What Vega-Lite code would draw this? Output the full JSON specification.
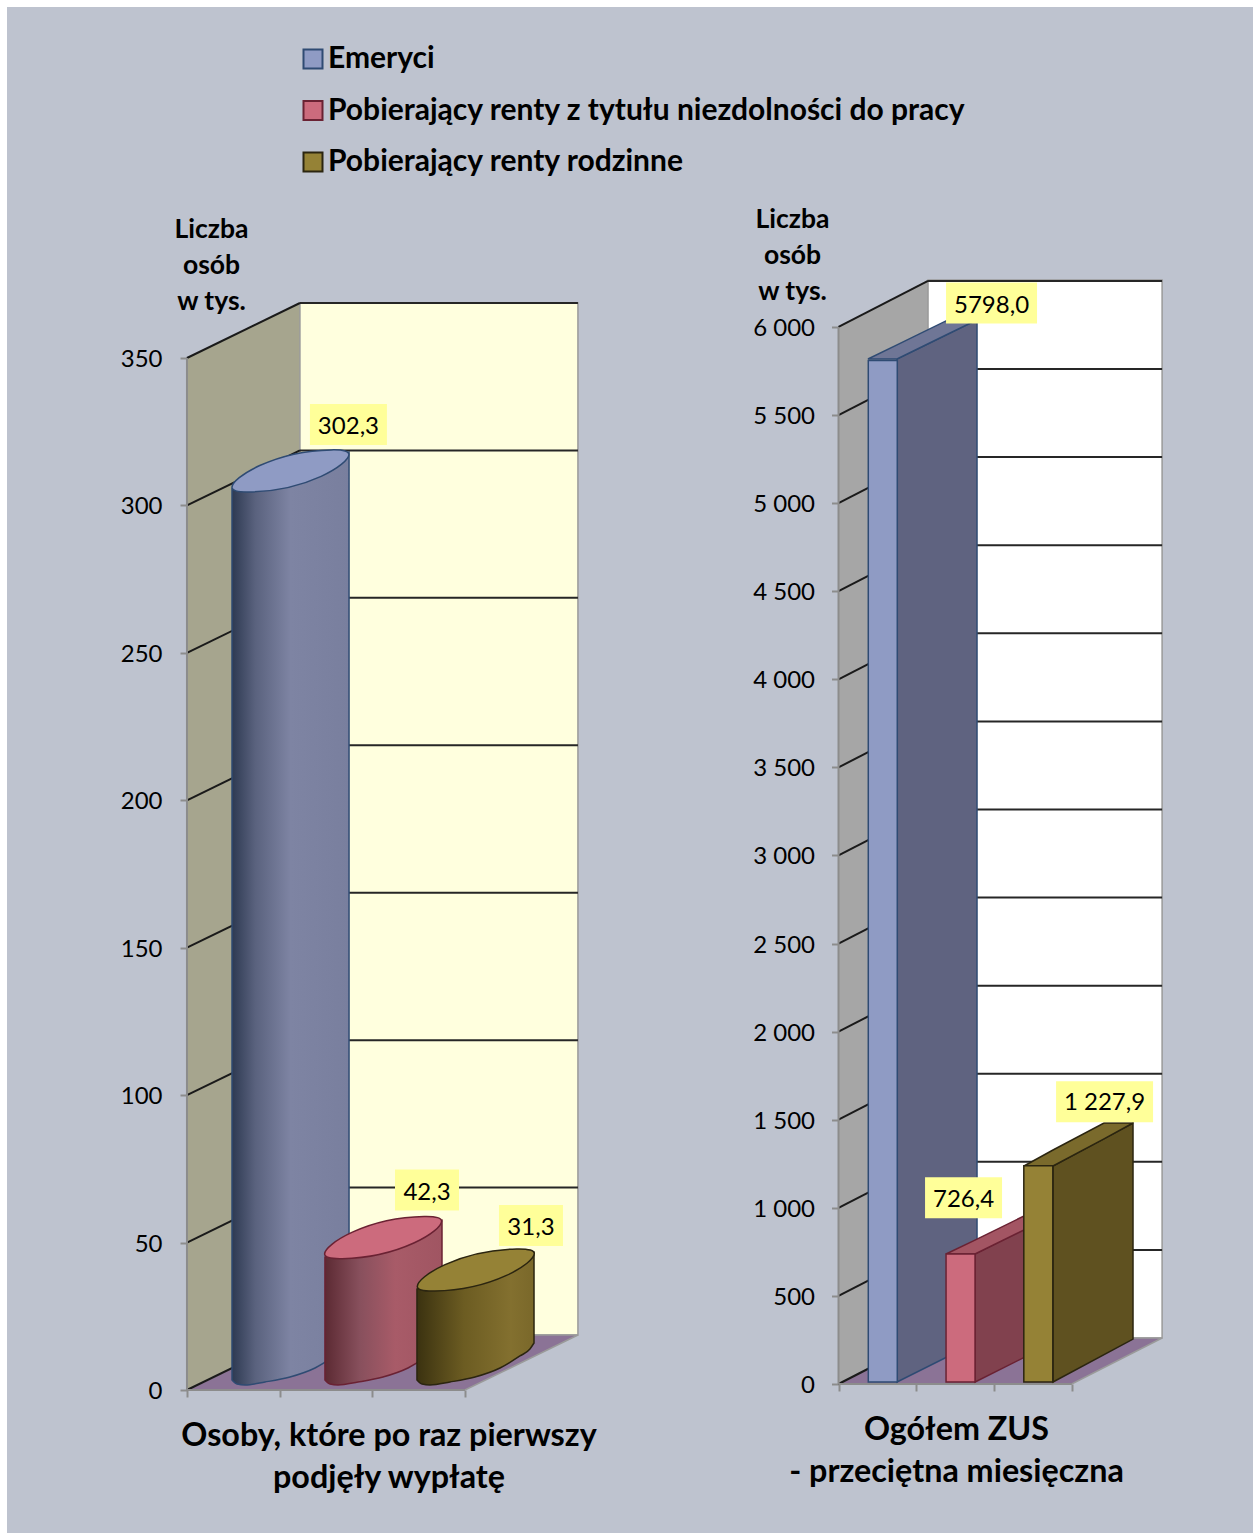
{"$schema":"https://vega.github.io/schema/vega-lite/v6.json","background":"white","padding":{"left":7,"top":7,"right":0,"bottom":0},"spacing":0,
"config":{"font":"Lato","legend":{"symbolType":"square"},"axis":{"labelFont":"Lato","titleFont":"Lato"}},
"datasets":{
"first":[{"series":"Emeryci","slot":1,"value":302.3,"label":"302,3"},{"series":"Pobierający renty z tytułu niezdolności do pracy","slot":2,"value":42.3,"label":"42,3"},{"series":"Pobierający renty rodzinne","slot":3,"value":31.3,"label":"31,3"}],
"total":[{"series":"Emeryci","slot":1,"value":5798.0,"label":"5798,0"},{"series":"Pobierający renty z tytułu niezdolności do pracy","slot":2,"value":726.4,"label":"726,4"},{"series":"Pobierający renty rodzinne","slot":3,"value":1227.9,"label":"1 227,9"}],
"ticks1":[{"tick":0},{"tick":50},{"tick":100},{"tick":150},{"tick":200},{"tick":250},{"tick":300},{"tick":350}],
"ticks2":[{"tick":0},{"tick":500},{"tick":1000},{"tick":1500},{"tick":2000},{"tick":2500},{"tick":3000},{"tick":3500},{"tick":4000},{"tick":4500},{"tick":5000},{"tick":5500},{"tick":6000}]
},
"hconcat":[
{"width":627,"height":1526,"view":{"fill":"#BEC3CF","stroke":null},"resolve":{"axis":{"x":"independent","y":"independent"}},
"layer":[
{"data":{"name":"ticks1"},"mark":{"type":"rule","opacity":0},"encoding":{
"x":{"datum":0,"type":"quantitative","scale":{"domain":[-1.942,4.824],"nice":false,"zero":false},"axis":{"values":[0,1,2,3],"labels":false,"domain":false,"grid":false,"tickColor":"#8C8C8C","tickWidth":2,"tickSize":7,"offset":-143,"title":["Osoby, które po raz pierwszy","podjęły wypłatę"],"titleFontSize":32.3,"titleFontWeight":"bold","titleColor":"black","titleX":381.5,"titleY":45,"titleAlign":"center","titleBaseline":"middle","titleLineHeight":42}},
"x2":{"datum":3},
"y":{"field":"tick","type":"quantitative","scale":{"domain":[-48.5,469.04],"nice":false,"zero":false},"axis":{"values":[0,50,100,150,200,250,300,350],"domain":false,"grid":false,"tickColor":"#8C8C8C","tickWidth":2,"tickSize":7,"offset":-180,"labelFontSize":24,"labelColor":"black","labelPadding":18,"labelOffset":1.5,"title":["Liczba","osób","w tys."],"titleFontSize":26.5,"titleFontWeight":"bold","titleColor":"black","titleAngle":0,"titleX":24,"titleY":222,"titleAlign":"center","titleBaseline":"middle","titleLineHeight":36}}}},
{"data":{"values":[{"d":0,"lo":0,"hi":350},{"d":1.219,"lo":18.65,"hi":368.65}]},"mark":{"type":"area","orient":"vertical","fill":"#A6A58E"},"encoding":{"x":{"field":"d","type":"quantitative","axis":null},"y":{"field":"lo","type":"quantitative","axis":null},"y2":{"field":"hi"}}},
{"data":{"values":[{"d":1.219,"lo":18.65,"hi":368.65},{"d":4.219,"lo":18.65,"hi":368.65}]},"mark":{"type":"area","orient":"vertical","fill":"#FFFFDE","stroke":"#9A9A9A","strokeWidth":1.5},"encoding":{"x":{"field":"d","type":"quantitative","axis":null},"y":{"field":"lo","type":"quantitative","axis":null},"y2":{"field":"hi"}}},
{"data":{"values":[{"d":0,"lo":0,"hi":0},{"d":1.219,"lo":0,"hi":18.65},{"d":3,"lo":0,"hi":18.65},{"d":4.219,"lo":18.65,"hi":18.65}]},"mark":{"type":"area","orient":"vertical","fill":"#8B7396","stroke":"#9A9A9A","strokeWidth":1.5},"encoding":{"x":{"field":"d","type":"quantitative","axis":null},"y":{"field":"lo","type":"quantitative","axis":null},"y2":{"field":"hi"}}},
{"data":{"name":"ticks1"},"transform":[{"filter":"datum.tick>0"}],"mark":{"type":"rule","color":"#262626","strokeWidth":2,"yOffset":-55},"encoding":{"x":{"datum":1.219,"type":"quantitative","axis":null},"x2":{"datum":4.219},"y":{"field":"tick","type":"quantitative","axis":null}}},
{"data":{"name":"ticks1"},"mark":{"type":"rule","color":"#1A1A1A","strokeWidth":2,"y2Offset":-55},"encoding":{"x":{"datum":0,"type":"quantitative","axis":null},"x2":{"datum":1.219},"y":{"field":"tick","type":"quantitative","axis":null},"y2":{"field":"tick"}}},
{"data":{"values":[{"a":0}]},"mark":{"type":"rule","color":"#8C8C8C","strokeWidth":2},"encoding":{"x":{"datum":0,"type":"quantitative","axis":null},"y":{"datum":0,"type":"quantitative","axis":null},"y2":{"datum":350}}},
{"data":{"values":[{"a":0}]},"mark":{"type":"rule","color":"#8C8C8C","strokeWidth":2},"encoding":{"x":{"datum":0,"type":"quantitative","axis":null},"x2":{"datum":3},"y":{"datum":0,"type":"quantitative","axis":null}}},
{"data":{"values":[{"u":0.486,"lo":3.39,"hi":305.6},{"u":0.54,"lo":2.03,"hi":306.14},{"u":0.626,"lo":1.7,"hi":306.99},{"u":0.842,"lo":2.71,"hi":309.13},{"u":1.112,"lo":4.41,"hi":311.8},{"u":1.382,"lo":7.46,"hi":314.46},{"u":1.597,"lo":11.53,"hi":316.6},{"u":1.705,"lo":13.9,"hi":317.67},{"u":1.749,"lo":15.94,"hi":318.1}]},"mark":{"type":"area","orient":"vertical","interpolate":"monotone","stroke":"#2F4B73","strokeWidth":1.5,"fill":{"gradient":"linear","x1":0,"x2":1,"y1":0,"y2":0,"stops":[{"offset":0,"color":"#2E3A52"},{"offset":0.2,"color":"#5A627E"},{"offset":0.5,"color":"#7E84A3"},{"offset":1,"color":"#797F9E"}]}},"encoding":{"x":{"field":"u","type":"quantitative","axis":null},"y":{"field":"lo","type":"quantitative","axis":null},"y2":{"field":"hi"}}},
{"data":{"values":[{"u":1.489,"lo":3.39,"hi":45.1},{"u":1.543,"lo":2.03,"hi":45.64},{"u":1.629,"lo":1.7,"hi":46.49},{"u":1.845,"lo":2.71,"hi":48.63},{"u":2.115,"lo":4.41,"hi":51.3},{"u":2.385,"lo":7.46,"hi":53.96},{"u":2.6,"lo":11.53,"hi":56.1},{"u":2.708,"lo":13.9,"hi":57.17},{"u":2.752,"lo":15.94,"hi":57.6}]},"mark":{"type":"area","orient":"vertical","interpolate":"monotone","stroke":"#6A2233","strokeWidth":1.5,"fill":{"gradient":"linear","x1":0,"x2":1,"y1":0,"y2":0,"stops":[{"offset":0,"color":"#5C2A33"},{"offset":0.3,"color":"#88505D"},{"offset":0.6,"color":"#A85B68"},{"offset":1,"color":"#A05562"}]}},"encoding":{"x":{"field":"u","type":"quantitative","axis":null},"y":{"field":"lo","type":"quantitative","axis":null},"y2":{"field":"hi"}}},
{"data":{"values":[{"u":2.482,"lo":3.39,"hi":34.25},{"u":2.536,"lo":2.03,"hi":34.79},{"u":2.622,"lo":1.7,"hi":35.64},{"u":2.838,"lo":2.71,"hi":37.78},{"u":3.108,"lo":4.41,"hi":40.45},{"u":3.378,"lo":7.46,"hi":43.11},{"u":3.593,"lo":11.53,"hi":45.25},{"u":3.701,"lo":13.9,"hi":46.32},{"u":3.745,"lo":15.94,"hi":46.75}]},"mark":{"type":"area","orient":"vertical","interpolate":"monotone","stroke":"#2B2510","strokeWidth":1.5,"fill":{"gradient":"linear","x1":0,"x2":1,"y1":0,"y2":0,"stops":[{"offset":0,"color":"#3B3210"},{"offset":0.4,"color":"#6C5C22"},{"offset":0.8,"color":"#83702F"},{"offset":1,"color":"#7A682A"}]}},"encoding":{"x":{"field":"u","type":"quantitative","axis":null},"y":{"field":"lo","type":"quantitative","axis":null},"y2":{"field":"hi"}}},
{"data":{"name":"first"},"mark":{"type":"point","shape":"M-1,0.28 C-1,0.12 -0.3,-0.34 0.7,-0.36 C0.92,-0.365 1,-0.33 1,-0.28 C1,-0.12 0.3,0.34 -0.7,0.36 C-0.92,0.365 -1,0.33 -1,0.28 Z","filled":true,"opacity":1,"size":13689,"xOffset":10.8,"yOffset":-27.7,"strokeWidth":1.5},"encoding":{"x":{"field":"slot","type":"quantitative","axis":null},"y":{"field":"value","type":"quantitative","axis":null},"color":{"field":"series","type":"nominal","scale":{"domain":["Emeryci","Pobierający renty z tytułu niezdolności do pracy","Pobierający renty rodzinne"],"range":["#8F9BC4","#CC6B7D","#958236"]},"legend":{"title":null,"orient":"none","legendX":291,"legendY":37,"symbolType":"square","symbolSize":361,"symbolStrokeWidth":2,"symbolOpacity":1,"labelFont":"Lato","labelFontWeight":"bold","labelFontSize":30,"labelColor":"black","labelOffset":0,"labelLimit":900,"rowPadding":21.5}},"stroke":{"field":"series","type":"nominal","scale":{"domain":["Emeryci","Pobierający renty z tytułu niezdolności do pracy","Pobierający renty rodzinne"],"range":["#2F4B73","#6A2233","#2B2510"]},"legend":{"title":null}}}},
{"data":{"name":"first"},"transform":[{"filter":"datum.slot==1"}],"mark":{"type":"point","shape":"M-1,-0.532 H1 V0.532 H-1 Z","filled":true,"opacity":1,"fill":"#FFFF99","stroke":null,"size":5929,"xOffset":68.8,"yOffset":-74.1},"encoding":{"x":{"field":"slot","type":"quantitative","axis":null},"y":{"field":"value","type":"quantitative","axis":null}}},
{"data":{"name":"first"},"transform":[{"filter":"datum.slot==2"}],"mark":{"type":"point","shape":"M-1,-0.64 H1 V0.64 H-1 Z","filled":true,"opacity":1,"fill":"#FFFF99","stroke":null,"size":4096,"xOffset":54.7,"yOffset":-75.3},"encoding":{"x":{"field":"slot","type":"quantitative","axis":null},"y":{"field":"value","type":"quantitative","axis":null}}},
{"data":{"name":"first"},"transform":[{"filter":"datum.slot==3"}],"mark":{"type":"point","shape":"M-1,-0.64 H1 V0.64 H-1 Z","filled":true,"opacity":1,"fill":"#FFFF99","stroke":null,"size":4096,"xOffset":66,"yOffset":-72.2},"encoding":{"x":{"field":"slot","type":"quantitative","axis":null},"y":{"field":"value","type":"quantitative","axis":null}}},
{"data":{"name":"first"},"transform":[{"filter":"datum.slot==1"}],"mark":{"type":"text","font":"Lato","fontSize":24,"color":"black","xOffset":68.8,"yOffset":-71.5},"encoding":{"x":{"field":"slot","type":"quantitative","axis":null},"y":{"field":"value","type":"quantitative","axis":null},"text":{"field":"label"}}},
{"data":{"name":"first"},"transform":[{"filter":"datum.slot==2"}],"mark":{"type":"text","font":"Lato","fontSize":24,"color":"black","xOffset":54.7,"yOffset":-72.7},"encoding":{"x":{"field":"slot","type":"quantitative","axis":null},"y":{"field":"value","type":"quantitative","axis":null},"text":{"field":"label"}}},
{"data":{"name":"first"},"transform":[{"filter":"datum.slot==3"}],"mark":{"type":"text","font":"Lato","fontSize":24,"color":"black","xOffset":66,"yOffset":-70.1},"encoding":{"x":{"field":"slot","type":"quantitative","axis":null},"y":{"field":"value","type":"quantitative","axis":null},"text":{"field":"label"}}}
]},
{"width":619,"height":1526,"view":{"fill":"#BEC3CF","stroke":null},"resolve":{"axis":{"x":"independent","y":"independent"}},
"layer":[
{"data":{"name":"ticks2"},"mark":{"type":"rule","opacity":0},"encoding":{
"x":{"datum":0,"type":"quantitative","scale":{"domain":[-2.63,5.33],"nice":false,"zero":false,"padding":0},"axis":{"values":[0,1,2,3],"labels":false,"domain":false,"grid":false,"tickColor":"#8C8C8C","tickWidth":2,"tickSize":7,"offset":-149,"title":["Ogółem ZUS","- przeciętna miesięczna"],"titleFontSize":32.3,"titleFontWeight":"bold","titleColor":"black","titleX":322,"titleY":45,"titleAlign":"center","titleBaseline":"middle","titleLineHeight":42}},
"x2":{"datum":3},
"y":{"field":"tick","type":"quantitative","scale":{"domain":[-845.8,7816],"nice":false,"zero":false},"axis":{"values":[0,500,1000,1500,2000,2500,3000,3500,4000,4500,5000,5500,6000],"labelExpr":"replace(format(datum.value,',d'),',',' ')","domain":false,"grid":false,"tickColor":"#8C8C8C","tickWidth":2,"tickSize":7,"offset":-204.5,"labelFontSize":24,"labelColor":"black","labelPadding":17,"labelOffset":1.5,"title":["Liczba","osób","w tys."],"titleFontSize":26.5,"titleFontWeight":"bold","titleColor":"black","titleAngle":0,"titleX":-46.5,"titleY":212,"titleAlign":"center","titleBaseline":"middle","titleLineHeight":36}}}},
{"data":{"values":[{"d":0,"lo":0,"hi":6000},{"d":1.151,"lo":261,"hi":6267}]},"mark":{"type":"area","orient":"vertical","fill":"#A6A6A6"},"encoding":{"x":{"field":"d","type":"quantitative","axis":null},"y":{"field":"lo","type":"quantitative","axis":null},"y2":{"field":"hi"}}},
{"data":{"values":[{"d":1.151,"lo":261,"hi":6267},{"d":4.161,"lo":261,"hi":6267}]},"mark":{"type":"area","orient":"vertical","fill":"#FFFFFF","stroke":"#9A9A9A","strokeWidth":1.5},"encoding":{"x":{"field":"d","type":"quantitative","axis":null},"y":{"field":"lo","type":"quantitative","axis":null},"y2":{"field":"hi"}}},
{"data":{"values":[{"d":0,"lo":0,"hi":0},{"d":1.151,"lo":0,"hi":261},{"d":3,"lo":0,"hi":261},{"d":4.161,"lo":261,"hi":261}]},"mark":{"type":"area","orient":"vertical","fill":"#8B7396","stroke":"#9A9A9A","strokeWidth":1.5},"encoding":{"x":{"field":"d","type":"quantitative","axis":null},"y":{"field":"lo","type":"quantitative","axis":null},"y2":{"field":"hi"}}},
{"data":{"name":"ticks2"},"transform":[{"filter":"datum.tick>0"}],"mark":{"type":"rule","color":"#262626","strokeWidth":2,"yOffset":-46},"encoding":{"x":{"datum":1.151,"type":"quantitative","axis":null},"x2":{"datum":4.161},"y":{"field":"tick","type":"quantitative","axis":null}}},
{"data":{"name":"ticks2"},"mark":{"type":"rule","color":"#1A1A1A","strokeWidth":2,"y2Offset":-46},"encoding":{"x":{"datum":0,"type":"quantitative","axis":null},"x2":{"datum":1.151},"y":{"field":"tick","type":"quantitative","axis":null},"y2":{"field":"tick"}}},
{"data":{"values":[{"a":0}]},"mark":{"type":"rule","color":"#8C8C8C","strokeWidth":2},"encoding":{"x":{"datum":0,"type":"quantitative","axis":null},"y":{"datum":0,"type":"quantitative","axis":null},"y2":{"datum":6000}}},
{"data":{"values":[{"a":0}]},"mark":{"type":"rule","color":"#8C8C8C","strokeWidth":2},"encoding":{"x":{"datum":0,"type":"quantitative","axis":null},"x2":{"datum":3},"y":{"datum":0,"type":"quantitative","axis":null}}},
{"data":{"values":[{"u":0.752,"lo":11.35,"hi":5818},{"u":1.781,"lo":238.4,"hi":6040}]},"mark":{"type":"area","orient":"vertical","fill":"#5F6380","stroke":"#2F4B73","strokeWidth":1.5},"encoding":{"x":{"field":"u","type":"quantitative","axis":null},"y":{"field":"lo","type":"quantitative","axis":null},"y2":{"field":"hi"}}},
{"data":{"values":[{"u":0.379,"lo":5818,"hi":5818},{"u":0.752,"lo":5818,"hi":5898},{"u":1.408,"lo":5960,"hi":6040},{"u":1.781,"lo":6040,"hi":6040}]},"mark":{"type":"area","orient":"vertical","fill":"#6F7696","stroke":"#2F4B73","strokeWidth":1.5},"encoding":{"x":{"field":"u","type":"quantitative","axis":null},"y":{"field":"lo","type":"quantitative","axis":null},"y2":{"field":"hi"}}},
{"data":{"name":"total"},"transform":[{"filter":"datum.slot==1"}],"mark":{"type":"bar","orient":"vertical","size":29,"xOffset":-33.5,"yOffset":-2,"y2Offset":-2,"strokeWidth":1.5},"encoding":{"x":{"field":"slot","type":"quantitative","axis":null},"y":{"field":"value","type":"quantitative","axis":null},"y2":{"datum":0},"color":{"field":"series","type":"nominal"},"stroke":{"field":"series","type":"nominal"}}},
{"data":{"values":[{"u":1.756,"lo":11.35,"hi":737.9},{"u":2.785,"lo":238.4,"hi":965}]},"mark":{"type":"area","orient":"vertical","fill":"#81414E","stroke":"#6A2233","strokeWidth":1.5},"encoding":{"x":{"field":"u","type":"quantitative","axis":null},"y":{"field":"lo","type":"quantitative","axis":null},"y2":{"field":"hi"}}},
{"data":{"values":[{"u":1.382,"lo":737.9,"hi":737.9},{"u":1.755,"lo":737.9,"hi":817},{"u":2.411,"lo":880,"hi":959},{"u":2.784,"lo":959,"hi":959}]},"mark":{"type":"area","orient":"vertical","fill":"#A35563","stroke":"#6A2233","strokeWidth":1.5},"encoding":{"x":{"field":"u","type":"quantitative","axis":null},"y":{"field":"lo","type":"quantitative","axis":null},"y2":{"field":"hi"}}},
{"data":{"name":"total"},"transform":[{"filter":"datum.slot==2"}],"mark":{"type":"bar","orient":"vertical","size":29,"xOffset":-33.5,"yOffset":-2,"y2Offset":-2,"strokeWidth":1.5},"encoding":{"x":{"field":"slot","type":"quantitative","axis":null},"y":{"field":"value","type":"quantitative","axis":null},"y2":{"datum":0},"color":{"field":"series","type":"nominal"},"stroke":{"field":"series","type":"nominal"}}},
{"data":{"values":[{"u":2.758,"lo":11.35,"hi":1237.5},{"u":3.787,"lo":255,"hi":1481.5}]},"mark":{"type":"area","orient":"vertical","fill":"#5F5120","stroke":"#2B2510","strokeWidth":1.5},"encoding":{"x":{"field":"u","type":"quantitative","axis":null},"y":{"field":"lo","type":"quantitative","axis":null},"y2":{"field":"hi"}}},
{"data":{"values":[{"u":2.385,"lo":1237.5,"hi":1237.5},{"u":2.758,"lo":1237.5,"hi":1328},{"u":3.414,"lo":1391,"hi":1481.5},{"u":3.787,"lo":1481.5,"hi":1481.5}]},"mark":{"type":"area","orient":"vertical","fill":"#7A6A2C","stroke":"#2B2510","strokeWidth":1.5},"encoding":{"x":{"field":"u","type":"quantitative","axis":null},"y":{"field":"lo","type":"quantitative","axis":null},"y2":{"field":"hi"}}},
{"data":{"name":"total"},"transform":[{"filter":"datum.slot==3"}],"mark":{"type":"bar","orient":"vertical","size":29,"xOffset":-33.5,"yOffset":-2,"y2Offset":-2,"strokeWidth":1.5},"encoding":{"x":{"field":"slot","type":"quantitative","axis":null},"y":{"field":"value","type":"quantitative","axis":null},"y2":{"datum":0},"color":{"field":"series","type":"nominal"},"stroke":{"field":"series","type":"nominal"}}},
{"data":{"name":"total"},"transform":[{"filter":"datum.slot==1"}],"mark":{"type":"point","shape":"M-1,-0.45 H1 V0.45 H-1 Z","filled":true,"opacity":1,"fill":"#FFFF99","stroke":null,"size":8281,"xOffset":75.25,"yOffset":-59.6},"encoding":{"x":{"field":"slot","type":"quantitative","axis":null},"y":{"field":"value","type":"quantitative","axis":null}}},
{"data":{"name":"total"},"transform":[{"filter":"datum.slot==2"}],"mark":{"type":"point","shape":"M-1,-0.532 H1 V0.532 H-1 Z","filled":true,"opacity":1,"fill":"#FFFF99","stroke":null,"size":5929,"xOffset":-30.5,"yOffset":-58.3},"encoding":{"x":{"field":"slot","type":"quantitative","axis":null},"y":{"field":"value","type":"quantitative","axis":null}}},
{"data":{"name":"total"},"transform":[{"filter":"datum.slot==3"}],"mark":{"type":"point","shape":"M-1,-0.423 H1 V0.423 H-1 Z","filled":true,"opacity":1,"fill":"#FFFF99","stroke":null,"size":9409,"xOffset":32.75,"yOffset":-66},"encoding":{"x":{"field":"slot","type":"quantitative","axis":null},"y":{"field":"value","type":"quantitative","axis":null}}},
{"data":{"name":"total"},"transform":[{"filter":"datum.slot==1"}],"mark":{"type":"text","font":"Lato","fontSize":24,"color":"black","xOffset":75.25,"yOffset":-57},"encoding":{"x":{"field":"slot","type":"quantitative","axis":null},"y":{"field":"value","type":"quantitative","axis":null},"text":{"field":"label"}}},
{"data":{"name":"total"},"transform":[{"filter":"datum.slot==2"}],"mark":{"type":"text","font":"Lato","fontSize":24,"color":"black","xOffset":-30.5,"yOffset":-56.2},"encoding":{"x":{"field":"slot","type":"quantitative","axis":null},"y":{"field":"value","type":"quantitative","axis":null},"text":{"field":"label"}}},
{"data":{"name":"total"},"transform":[{"filter":"datum.slot==3"}],"mark":{"type":"text","font":"Lato","fontSize":24,"color":"black","xOffset":32.75,"yOffset":-65},"encoding":{"x":{"field":"slot","type":"quantitative","axis":null},"y":{"field":"value","type":"quantitative","axis":null},"text":{"field":"label"}}}
]}
]}
